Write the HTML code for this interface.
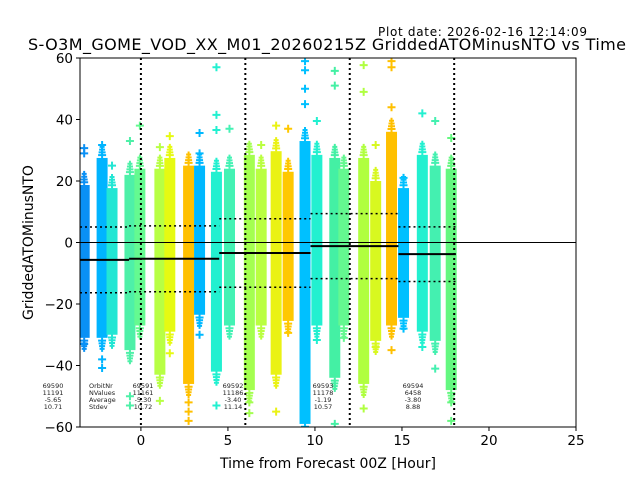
<!DOCTYPE html>
<html><head><meta charset="utf-8"><style>
html,body{margin:0;padding:0;background:#fff;}
svg{display:block;font-family:"DejaVu Sans","Liberation Sans",sans-serif;}
</style></head><body>
<svg id="chart" width="640" height="480" viewBox="0 0 640 480">
<defs><clipPath id="plotclip"><rect x="80" y="58" width="496" height="369"/></clipPath></defs>
<rect x="0" y="0" width="640" height="480" fill="#fff"/>
<text x="587" y="36" font-size="12" text-anchor="end" textLength="209">Plot date: 2026-02-16 12:14:09</text>
<text x="327" y="50" font-size="16" text-anchor="middle" textLength="598">S-O3M_GOME_VOD_XX_M01_20260215Z GriddedATOMinusNTO vs Time</text>
<g id="marks" clip-path="url(#plotclip)"></g>
<g id="axes"></g>
<text x="33" y="242.5" font-size="14" text-anchor="middle" transform="rotate(-90 33 242.5)">GriddedATOMinusNTO</text>
<text x="328" y="468" font-size="14" text-anchor="middle">Time from Forecast 00Z [Hour]</text>
</svg>
<script>
const colTimes=[-3.26,-2.23,-1.66,-0.63,-0.06,1.09,1.66,2.74,3.37,4.34,5.09,6.23,6.91,7.77,8.46,9.43,10.11,11.14,11.66,12.8,13.49,14.4,15.09,16.17,16.91,17.83];
const colColors=["#0a90f5","#00b4ff","#22e6d4","#4ef0a8","#64fa90","#b8ff44","#e6fa12","#ffc000","#00b8ff","#22f0d0","#44f2b4","#a4ff50","#baff40","#eaf214","#ffc800","#00c0ff","#22f0d0","#44f0a4","#64f890","#b0ff40","#d8f820","#ffc000","#00c0ff","#22f0d0","#44f0b0","#64f880"];
const bandHi=[18.7,27.5,17.7,22,24,24,27.5,25,25,23,24,28.5,24,29.7,23,33,28.5,27.5,24,27.5,20,36,17.7,28.5,25,24];
const bandLo=[-31,-31,-30,-35,-27,-43,-29,-46,-23.5,-42,-27,-48,-27,-43,-25.5,-59,-27,-44,-27,-46,-32,-27,-24.5,-29,-32,-48];
const outCol=[0,0,0,1,1,1,2,3,3,3,4,5,5,6,6,7,7,7,8,8,8,9,9,9,9,10,11,11,12,13,13,14,14,15,15,15,15,15,16,16,17,17,17,18,19,19,19,20,20,21,21,21,21,22,22,23,23,24,24,25,25,25];
const outVal=[30.7,29,-33,31.7,-38,-40.8,25,33,-50,-53,38,31,-51.5,34.6,-36,-58,-52,-55,35.6,29,-30,57,41.5,36.6,-53,37,-52,-55.5,31.7,38,-55,37,-29.4,59,56,50,45,-60,39.5,-31.7,55.8,51,-59,-31,57.7,49,-54,31.7,-34,59,57,44,-35,21,-28,42,-34,39.5,-41,34,-52,-58];
const orbitStart=[-3.5,-0.68,4.5,9.75,14.8];
const orbitEnd=[-0.68,4.5,9.75,14.8,18.1];
const orbitMean=[-5.65,-5.30,-3.40,-1.19,-3.80];
const orbitStd=[10.71,10.72,11.14,10.57,8.88];
const orbitNr=["69590","69591","69592","69593","69594"];
const orbitN=["11191","11161","11186","11178","6458"];
const orbitLabelX=[53,143,233,323,413];
const vLines=[0,6,12,18];
const xTicks=[0,5,10,15,20,25];
const yTicks=[-60,-40,-20,0,20,40,60];

const X0=80,X1=576,Y0=58,Y1=427,xmin=-3.5,xmax=25,ymin=-60,ymax=60;
const xs=t=>X0+(t-xmin)/(xmax-xmin)*(X1-X0);
const ys=v=>Y1-(v-ymin)/(ymax-ymin)*(Y1-Y0);
const NS="http://www.w3.org/2000/svg";
function mk(tag,attrs,parent){const e=document.createElementNS(NS,tag);for(const k in attrs)e.setAttribute(k,attrs[k]);parent.appendChild(e);return e;}
const marks=document.getElementById('marks'),axes=document.getElementById('axes'),svg=document.getElementById('chart');

colTimes.forEach((t,i)=>{
  const cx=xs(t);
  const r=mk('rect',{x:cx-5.5,y:ys(bandHi[i]),width:11,height:ys(bandLo[i])-ys(bandHi[i]),fill:colColors[i]},marks);
  
  
  [[bandHi[i],1],[bandLo[i],-1]].forEach(([v,d])=>{
    for(let k=1;k<=4;k++){
      const w=4.5-k*0.5;
      const c=mk('path',{d:`M${cx-w} ${ys(v+d*k*0.9)}h${2*w}M${cx} ${ys(v+d*k*0.9)-3}v6`,stroke:colColors[i],'stroke-width':2,fill:'none'},marks);
      
      
    }
  });
});
outCol.forEach((c,j)=>{
  const cx=xs(colTimes[c]),cy=ys(outVal[j]);
  const p=mk('path',{d:`M${cx-4} ${cy}h8M${cx} ${cy-4}v8`,stroke:colColors[c],'stroke-width':2,fill:'none'},marks);
  
  
});
const zl=mk('line',{x1:X0,x2:X1,y1:ys(0),y2:ys(0),stroke:'#000','stroke-width':1},marks);


vLines.forEach(t=>{
  const l=mk('line',{x1:xs(t),x2:xs(t),y1:Y0,y2:Y1,stroke:'#000','stroke-width':2,'stroke-dasharray':'2,3'},marks);
  
  
});
orbitStart.forEach((s,i)=>{
  const x1=xs(s),x2=xs(orbitEnd[i]);
  const m=mk('line',{x1,x2,y1:ys(orbitMean[i]),y2:ys(orbitMean[i]),stroke:'#000','stroke-width':2},marks);
  
  
  [orbitMean[i]+orbitStd[i],orbitMean[i]-orbitStd[i]].forEach(v=>{
    const d=mk('line',{x1,x2,y1:ys(v),y2:ys(v),stroke:'#000','stroke-width':1.5,'stroke-dasharray':'2,3'},marks);
    
    
  });
  const vals=[orbitNr[i],orbitN[i],orbitMean[i].toFixed(2),orbitStd[i].toFixed(2)];
  vals.forEach((v,k)=>{
    const tx=mk('text',{x:orbitLabelX[i],y:388+k*7,'font-size':6.5,'text-anchor':'middle',fill:'#222'},svg);
    tx.textContent=v;
    
    
  });
});
["OrbitNr","NValues","Average","Stdev"].forEach((v,k)=>{
  const tx=mk('text',{x:89,y:388+k*7,'font-size':6.5,fill:'#222'},svg);
  tx.textContent=v;
  
  
});
const fr=mk('rect',{x:X0,y:Y0,width:X1-X0,height:Y1-Y0,fill:'none',stroke:'#000','stroke-width':1},axes);


xTicks.forEach(t=>{
  const l=mk('line',{x1:xs(t),x2:xs(t),y1:Y1,y2:Y1+4,stroke:'#000'},axes);
  
  
  const tx=mk('text',{x:xs(t),y:Y1+18,'font-size':13.5,'text-anchor':'middle'},axes);
  tx.textContent=String(t);
  
  
});
yTicks.forEach(v=>{
  const l=mk('line',{x1:X0-4,x2:X0,y1:ys(v),y2:ys(v),stroke:'#000'},axes);
  
  
  const tx=mk('text',{x:X0-7,y:ys(v)+5,'font-size':13.5,'text-anchor':'end'},axes);
  tx.textContent=(v<0?'\u2212'+(-v):String(v));
  
  
});
</script>
</body></html>
